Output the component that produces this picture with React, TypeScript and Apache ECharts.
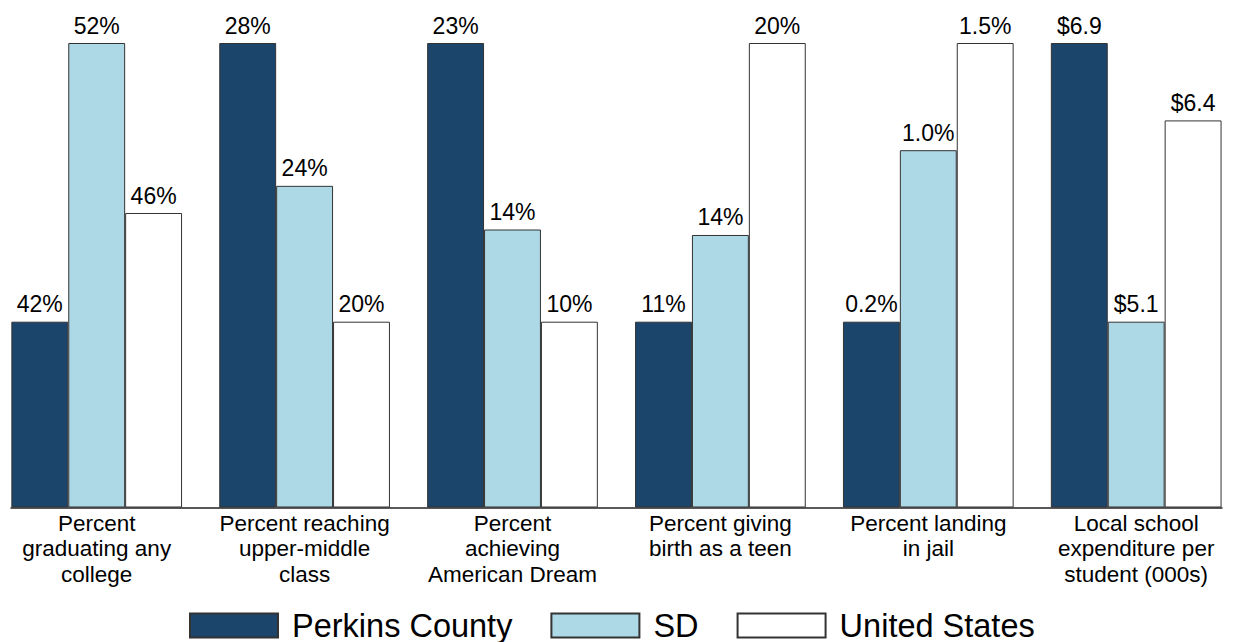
import React, { useEffect, useRef } from "react";
import * as echarts from "echarts";

const categories = [
  "Percent\ngraduating any\ncollege",
  "Percent reaching\nupper-middle\nclass",
  "Percent\nachieving\nAmerican Dream",
  "Percent giving\nbirth as a teen",
  "Percent landing\nin jail",
  "Local school\nexpenditure per\nstudent (000s)",
];
const seriesNames = ["Perkins County", "SD", "United States"];
const perkins = [42, 28, 23, 11, 0.2, 6.9];
const sd = [52, 23.9, 14.3, 13.8, 1.0, 5.1];
const us = [45.9, 20, 10, 20, 1.5, 6.4];
const prefixes = ["", "", "", "", "", "$"];
const suffixes = ["%", "%", "%", "%", "%", ""];
const decimals = [0, 0, 0, 0, 1, 1];
const colors = ["#1c456c", "#add8e6", "#ffffff"];

const FONT = "'Liberation Sans', Arial, sans-serif";

export default function App() {
  const ref = useRef<HTMLDivElement>(null);
  useEffect(() => {
    if (!ref.current) return;
    const chart = echarts.init(ref.current, null, { renderer: "svg" });
    const all = [perkins, sd, us];
    // each group is drawn on its own relative scale: group minimum at 40%, maximum at 100%
    const norm = (v: number, i: number) => {
      const vals = all.map((a) => a[i]);
      const mn = Math.min(...vals);
      const mx = Math.max(...vals);
      return 0.4 + (0.6 * (v - mn)) / (mx - mn);
    };
    const fmt = (v: number, i: number) =>
      prefixes[i] + v.toFixed(decimals[i]) + suffixes[i];

    chart.setOption({
      animation: false,
      textStyle: { fontFamily: FONT },
      grid: [
        {
          left: -7.25,
          width: 1247.4,
          top: 43,
          bottom: 134.5,
          containLabel: false,
          outerBoundsMode: "none",
        },
        {
          left: 11,
          width: 1211,
          top: 43,
          bottom: 134.5,
          containLabel: false,
          outerBoundsMode: "none",
        },
      ],
      xAxis: [
        {
          type: "category",
          gridIndex: 0,
          data: categories,
          axisLine: { show: false },
          axisTick: { show: false },
          axisLabel: {
            color: "#000",
            fontSize: 22.5,
            lineHeight: 25.5,
            margin: 3,
            fontFamily: FONT,
            interval: 0,
          },
        },
        {
          type: "value",
          gridIndex: 1,
          min: 0,
          max: 1,
          axisLine: { show: true, onZero: false, lineStyle: { color: "#222", width: 1.5 } },
          axisTick: { show: false },
          axisLabel: { show: false },
          splitLine: { show: false },
        },
      ],
      yAxis: [
        { type: "value", gridIndex: 0, min: 0, max: 1, show: false },
        { type: "value", gridIndex: 1, min: 0, max: 1, show: false },
      ],
      legend: {
        data: seriesNames,
        left: 189,
        top: 609,
        padding: 0,
        itemWidth: 88,
        itemHeight: 24,
        itemGap: 38,
        icon: "rect",
        formatter: (name: string) => " " + name,
        textStyle: { fontSize: 32.5, lineHeight: 32, color: "#000", fontFamily: FONT },
      },
      series: all.map((arr, s) => ({
        name: seriesNames[s],
        type: "bar",
        xAxisIndex: 0,
        yAxisIndex: 0,
        barWidth: 56.9,
        barGap: "0%",
        itemStyle: { color: colors[s], borderColor: "#333", borderWidth: 1 },
        label: {
          show: true,
          position: "top",
          distance: 6,
          color: "#000",
          fontSize: 23,
          fontFamily: FONT,
          formatter: (p: any) => fmt(arr[p.dataIndex], p.dataIndex),
        },
        data: arr.map((v, i) => norm(v, i)),
      })),
    });
    return () => chart.dispose();
  }, []);
  return (
    <div
      ref={ref}
      style={{ position: "absolute", left: 0, top: 0, width: 1236, height: 642 }}
    />
  );
}
